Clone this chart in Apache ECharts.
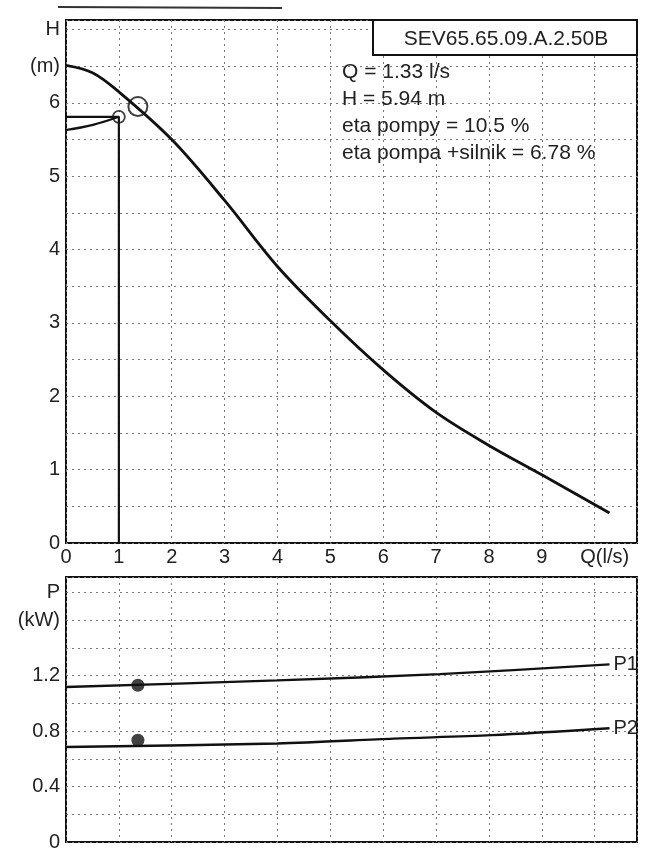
<!DOCTYPE html>
<html>
<head>
<meta charset="utf-8">
<script src="https://cdn.jsdelivr.net/npm/echarts@6/dist/echarts.min.js"></script>
<style>
  html, body { margin: 0; padding: 0; background: #fff; }
  #main { width: 650px; height: 852px; }
</style>
</head>
<body>
<div id="main"></div>
<script>
// pump curve H(Q)
const hCurveQ = [0, 0.5, 1, 2, 3, 4, 5, 6, 7, 8, 9, 10.28];
const hCurveH = [6.51, 6.41, 6.15, 5.5, 4.67, 3.77, 3.03, 2.36, 1.78, 1.33, 0.93, 0.41];
// lower (efficiency) curve up to the small marker
const lowQ = [0, 0.51, 1.0];
const lowH = [5.63, 5.7, 5.81];
// operating point and small marker
const opPoint = [1.36, 5.95];
const smallPoint = [1.0, 5.81];
// power curves
const p1Q = [0, 4, 7.07, 10.28];
const p1P = [1.117, 1.165, 1.21, 1.28];
const p2Q = [0, 4, 6.2, 8.05, 10.28];
const p2P = [0.685, 0.71, 0.745, 0.77, 0.82];
const pDots = [[1.36, 1.13], [1.36, 0.734]];

const titleText = "SEV65.65.09.A.2.50B";
const infoLines = ["Q = 1.33 l/s", "H = 5.94 m", "eta pompy = 10.5 %", "eta pompa +silnik = 6.78 %"];

const zip = (a, b) => a.map((v, i) => [v, b[i]]);
const font = "Liberation Sans";

const chart = echarts.init(document.getElementById("main"));

const gridLine = { show: true, lineStyle: { color: "#777", width: 1, type: [2, 4] } };

const option = {
  animation: false,
  textStyle: { fontFamily: font },
  grid: [
    { left: 66, top: 20, width: 571, height: 523, show: true, borderColor: "#111", borderWidth: 2 },
    { left: 66, top: 577, width: 571, height: 274.5, show: true, borderColor: "#111", borderWidth: 2 },
  ],
  xAxis: [
    {
      gridIndex: 0, type: "value", min: 0, max: 10.8, interval: 1,
      axisLine: { show: false }, axisTick: { show: false },
      splitLine: gridLine,
      axisLabel: {
        color: "#222", fontSize: 20, margin: 4, showMaxLabel: false,
        formatter: (v) => (v === 10 ? "{q|Q(l/s)}" : v < 10 ? String(v) : ""),
        rich: { q: { fontSize: 20, color: "#222", padding: [0, 0, 0, 20] } },
      },
    },
    {
      gridIndex: 1, type: "value", min: 0, max: 10.8, interval: 1,
      axisLine: { show: false }, axisTick: { show: false },
      splitLine: gridLine,
      axisLabel: { show: false },
    },
  ],
  yAxis: [
    {
      gridIndex: 0, type: "value", min: 0, max: 7.13, interval: 0.5,
      axisLine: { show: false }, axisTick: { show: false },
      splitLine: gridLine,
      axisLabel: {
        color: "#222", fontSize: 20, margin: 6, showMaxLabel: false,
        formatter: (v) => {
          const k = Math.round(v * 10);
          if (k === 70) return "H";
          if (k === 65) return "(m)";
          return k % 10 === 0 ? String(k / 10) : "";
        },
      },
    },
    {
      gridIndex: 1, type: "value", min: 0, max: 1.91, interval: 0.2,
      axisLine: { show: false }, axisTick: { show: false },
      splitLine: gridLine,
      axisLabel: {
        color: "#222", fontSize: 20, margin: 6, showMaxLabel: false,
        formatter: (v) => {
          const k = Math.round(v * 10);
          if (k === 18) return "P";
          if (k === 16) return "(kW)";
          return k % 4 === 0 ? String(k / 10) : "";
        },
      },
    },
  ],
  series: [
    {
      name: "H", type: "line", smooth: 0.35, showSymbol: false,
      data: zip(hCurveQ, hCurveH),
      lineStyle: { color: "#111", width: 2.8 },
    },
    {
      name: "eta", type: "line", smooth: 0.4, showSymbol: false,
      data: zip(lowQ, lowH),
      lineStyle: { color: "#111", width: 2.2 },
    },
    {
      name: "hline", type: "line", showSymbol: false,
      data: [[0, smallPoint[1]], smallPoint],
      lineStyle: { color: "#111", width: 2.2 },
    },
    {
      name: "vline", type: "line", showSymbol: false,
      data: [smallPoint, [smallPoint[0], 0]],
      lineStyle: { color: "#111", width: 2.2 },
    },
    {
      name: "op", type: "scatter", symbolSize: 19, z: 5,
      data: [opPoint],
      itemStyle: { color: "rgba(255,255,255,0)", borderColor: "#111", borderWidth: 2 },
    },
    {
      name: "small", type: "scatter", symbolSize: 12, z: 5,
      data: [smallPoint],
      itemStyle: { color: "rgba(255,255,255,0)", borderColor: "#111", borderWidth: 1.8 },
    },
    {
      name: "P1", type: "line", xAxisIndex: 1, yAxisIndex: 1, smooth: 0.3, showSymbol: false,
      data: zip(p1Q, p1P),
      lineStyle: { color: "#111", width: 2.4 },
      endLabel: { show: true, formatter: "{a}", color: "#222", fontSize: 20, distance: 4 },
    },
    {
      name: "P2", type: "line", xAxisIndex: 1, yAxisIndex: 1, smooth: 0.3, showSymbol: false,
      data: zip(p2Q, p2P),
      lineStyle: { color: "#111", width: 2.4 },
      endLabel: { show: true, formatter: "{a}", color: "#222", fontSize: 20, distance: 4 },
    },
    {
      name: "dots", type: "scatter", xAxisIndex: 1, yAxisIndex: 1, symbolSize: 13, z: 5,
      data: pDots,
      itemStyle: { color: "#111" },
    },
  ],
  graphic: [
    // scan header line
    { type: "line", shape: { x1: 58, y1: 7, x2: 282, y2: 8 }, style: { stroke: "#333", lineWidth: 2 } },
    {
      type: "rect", shape: { x: 373, y: 20, width: 264, height: 35 }, z: 10,
      style: { fill: "#fff", stroke: "#111", lineWidth: 2 },
    },
    {
      type: "text", x: 506, y: 39, z: 11,
      style: { text: titleText, font: "21px " + font, fill: "#222", align: "center", verticalAlign: "middle" },
    },
    {
      type: "text", x: 342, y: 59, z: 11,
      style: { text: infoLines.join("\n"), font: "21px " + font, lineHeight: 27, fill: "#222" },
    },
  ],
};

chart.setOption(option);
</script>
</body>
</html>
